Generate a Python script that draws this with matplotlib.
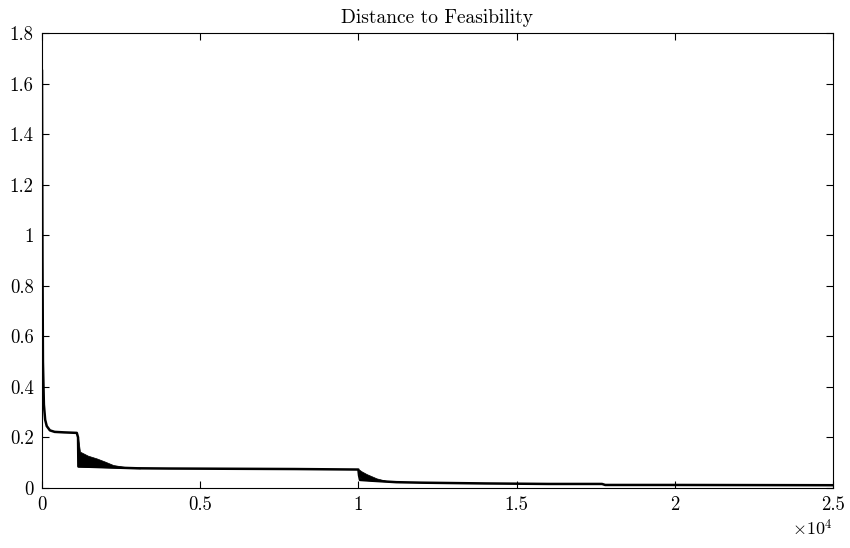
import numpy as np
import matplotlib
matplotlib.use("Agg")
import matplotlib.pyplot as plt

plt.rcParams['font.family'] = ['cmr10', 'DejaVu Serif']
plt.rcParams['mathtext.fontset'] = 'cm'
plt.rcParams['axes.formatter.use_mathtext'] = True

# distance to feasibility (iterations, value)
iters = [0, 15, 30, 60, 100, 150, 250, 400, 700, 1100, 1140, 1150,
         1500, 2000, 2500, 3000, 4000, 6000, 8000, 10000, 10020, 10050,
         10400, 10800, 11200, 12000, 14000, 16000, 17700, 17800, 20000, 25000]
dist = [1.65, 0.9, 0.5, 0.33, 0.27, 0.245, 0.228, 0.222, 0.22, 0.218, 0.2, 0.085,
        0.084, 0.082, 0.08, 0.078, 0.077, 0.076, 0.075, 0.073, 0.05, 0.032,
        0.029, 0.026, 0.023, 0.021, 0.018, 0.016, 0.016, 0.012, 0.012, 0.011]

# oscillation envelopes after the two restarts
band1_x = [1140, 1200, 1450, 1730, 2000, 2250, 2780, 3100]
band1_hi = [0.2, 0.144, 0.128, 0.117, 0.104, 0.091, 0.08, 0.078]
band1_lo = [0.085, 0.085, 0.084, 0.083, 0.082, 0.081, 0.079, 0.078]

band2_x = [10020, 10100, 10262, 10578, 10894, 11100, 11300]
band2_hi = [0.073, 0.066, 0.055, 0.038, 0.028, 0.024, 0.023]
band2_lo = [0.05, 0.032, 0.031, 0.028, 0.026, 0.024, 0.023]

xticks = [0, 5000, 10000, 15000, 20000, 25000]
xlabels = ['0', '0.5', '1', '1.5', '2', '2.5']
yticks = np.arange(0, 1.81, 0.2)
ylabels = ['0', '0.2', '0.4', '0.6', '0.8', '1', '1.2', '1.4', '1.6', '1.8']

fig = plt.figure(figsize=(8.5, 5.48), dpi=100)
ax = fig.add_axes([0.0494, 0.1095, 0.9306, 0.8303])

ax.fill_between(band1_x, band1_lo, band1_hi, color='black', lw=0.5)
ax.fill_between(band2_x, band2_lo, band2_hi, color='black', lw=0.5)
ax.plot(iters, dist, color='black', lw=1.8)

ax.set_xlim(0, 25000)
ax.set_ylim(0, 1.8)
ax.set_xticks(xticks)
ax.set_xticklabels(xlabels)
ax.set_yticks(yticks)
ax.set_yticklabels(ylabels)

ax.text(1.0, -0.065, r'$\times 10^4$', transform=ax.transAxes,
        ha='right', va='top', fontsize=13)

ax.tick_params(direction='in', length=5, width=0.8, top=True, right=True,
               labelsize=13.5, pad=6)
for s in ax.spines.values():
    s.set_linewidth(0.8)

ax.set_title('Distance to Feasibility', fontsize=14, pad=7)

fig.savefig('out.png', dpi=100)
